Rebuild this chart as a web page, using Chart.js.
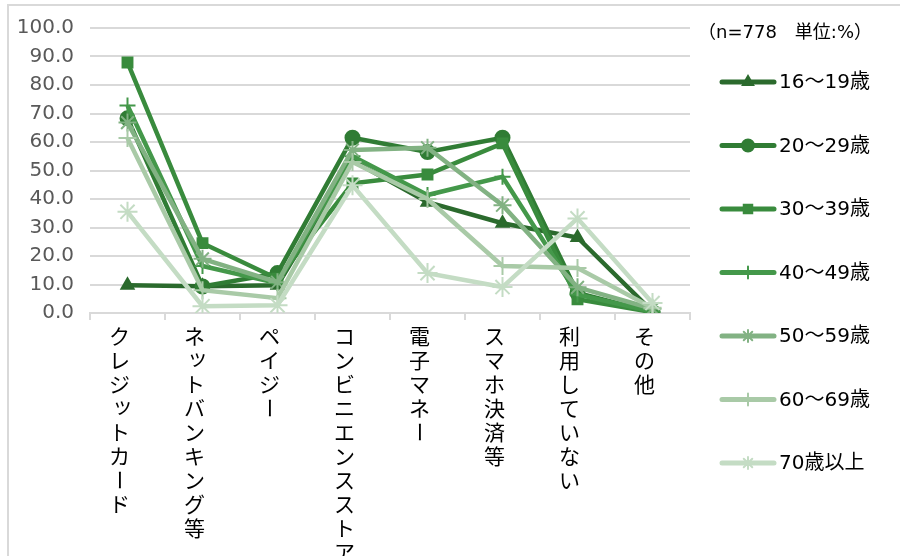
<!DOCTYPE html>
<html>
<head>
<meta charset="utf-8">
<script src="https://cdn.jsdelivr.net/npm/chart.js@4"></script>
<style>
  html, body { margin: 0; padding: 0; background: #fff; }
  #wrap { position: relative; width: 900px; height: 556px; overflow: hidden; }
  #frame { position: absolute; left: 7px; top: 4px; width: 900px; height: 600px;
           border-left: 2px solid #d9d9d9; border-top: 2px solid #d9d9d9; }
  canvas { position: absolute; left: 0; top: 0; }
</style>
</head>
<body>
<div id="wrap">
  <div id="frame"></div>
  <canvas id="payChart" width="900" height="556"></canvas>
</div>
<script>
// 支払い方法（カテゴリ）
const categories = ['クレジットカード', 'ネットバンキング等', 'ペイジー', 'コンビニエンスストア', '電子マネー', 'スマホ決済等', '利用していない', 'その他'];

// 年代別の割合（%）
const age16_19 = [9.7, 9.4, 9.7, 53.5, 38.9, 31.5, 26.5, 0.5];
const age20_29 = [68.3, 9.3, 14.0, 61.5, 56.5, 61.5, 7.0, 0.3];
const age30_39 = [87.9, 24.5, 12.0, 45.5, 48.6, 59.5, 4.8, 0.3];
const age40_49 = [72.8, 16.5, 10.5, 55.0, 41.4, 47.8, 6.5, 0.5];
const age50_59 = [66.8, 19.0, 10.8, 57.2, 58.0, 37.8, 9.0, 1.5];
const age60_69 = [61.4, 8.0, 5.2, 53.0, 40.0, 16.5, 15.8, 1.8];
const age70up  = [35.5, 2.4, 2.7, 44.8, 14.0, 9.1, 33.2, 3.5];

const seriesNames = ['16～19歳', '20～29歳', '30～39歳', '40～49歳', '50～59歳', '60～69歳', '70歳以上'];
const noteText = '（n=778　単位:%）';

const seriesValues = [age16_19, age20_29, age30_39, age40_49, age50_59, age60_69, age70up];
const colors = ['#2b6a2d', '#307c34', '#398b3d', '#44984a', '#82b283', '#a9caa7', '#c4dcc4'];
const markers = ['triangle', 'circle', 'rect', 'cross', 'star', 'cross', 'star'];
const markerSize = [7, 7, 7, 8, 9, 9, 10];

const jpFont = "'Noto Sans CJK JP', sans-serif";
const numFont = "'DejaVu Sans', 'Noto Sans CJK JP', sans-serif";

function createDataset(i) {
    return {
        label: seriesNames[i],
        data: seriesValues[i],
        borderColor: colors[i],
        backgroundColor: colors[i],
        borderWidth: 4.5,
        pointStyle: markers[i],
        pointRadius: markerSize[i],
        pointBorderWidth: 2,
        pointBackgroundColor: colors[i],
        pointBorderColor: colors[i],
        tension: 0,
        order: 6 - i
    };
}

// 縦書きのカテゴリ名
const verticalLabels = {
    id: 'verticalLabels',
    afterDraw(chart) {
        const ctx = chart.ctx;
        const xs = chart.scales.x;
        ctx.save();
        ctx.font = '21px ' + jpFont;
        ctx.fillStyle = '#000';
        ctx.textAlign = 'center';
        ctx.textBaseline = 'middle';
        categories.forEach((label, i) => {
            const x = xs.getPixelForValue(i) - 8;
            [...label].forEach((ch, j) => {
                const y = 336 + j * 24;
                if (ch === 'ー') {
                    ctx.save();
                    ctx.translate(x, y);
                    ctx.rotate(Math.PI / 2);
                    ctx.fillText(ch, 0, 0);
                    ctx.restore();
                } else if ('ッャュョィ'.includes(ch)) {
                    ctx.fillText(ch, x + 3, y - 3);
                } else {
                    ctx.fillText(ch, x, y);
                }
            });
        });
        ctx.restore();
    }
};

// 線＋マーカーの凡例
const lineLegend = {
    id: 'lineLegend',
    afterDraw(chart) {
        const ctx = chart.ctx;
        ctx.save();
        ctx.font = '18px ' + numFont;
        ctx.fillStyle = '#000';
        ctx.textBaseline = 'middle';
        ctx.fillText(noteText, 698, 33);
        ctx.font = '20px ' + numFont;
        seriesNames.forEach((name, i) => {
            const y = 82 + i * 63.5;
            ctx.strokeStyle = colors[i];
            ctx.lineWidth = 5;
            ctx.lineCap = 'round';
            ctx.beginPath();
            ctx.moveTo(722, y);
            ctx.lineTo(774, y);
            ctx.stroke();
            ctx.fillStyle = colors[i];
            ctx.strokeStyle = colors[i];
            ctx.lineWidth = 2;
            Chart.helpers.drawPoint(ctx, {pointStyle: markers[i], radius: 6, borderWidth: 2, rotation: 0}, 748, y);
            ctx.fillStyle = '#000';
            ctx.fillText(name, 779, y + 1);
        });
        ctx.restore();
    }
};

const ctx = document.getElementById('payChart').getContext('2d');
new Chart(ctx, {
    type: 'line',
    data: {
        labels: categories,
        datasets: seriesValues.map((v, i) => createDataset(i))
    },
    options: {
        responsive: false,
        animation: false,
        layout: { padding: { left: 0, right: 210, top: 23, bottom: 0 } },
        plugins: {
            legend: { display: false },
            tooltip: { enabled: false }
        },
        scales: {
            x: {
                offset: true,
                grid: { drawOnChartArea: false, drawTicks: true, tickLength: 7, offset: true, color: '#d9d9d9', lineWidth: 2 },
                border: { color: '#d9d9d9', width: 2 },
                ticks: { display: false },
                afterFit: s => { s.height = 243; }
            },
            y: {
                min: 0,
                max: 100,
                ticks: {
                    stepSize: 10,
                    padding: 16,
                    color: '#595959',
                    font: { size: 20, family: numFont },
                    callback: v => v.toFixed(1)
                },
                grid: { color: '#d9d9d9', lineWidth: 2, drawTicks: false },
                border: { display: false },
                afterFit: s => { s.width = 90; }
            }
        }
    },
    plugins: [verticalLabels, lineLegend]
});
</script>
</body>
</html>
